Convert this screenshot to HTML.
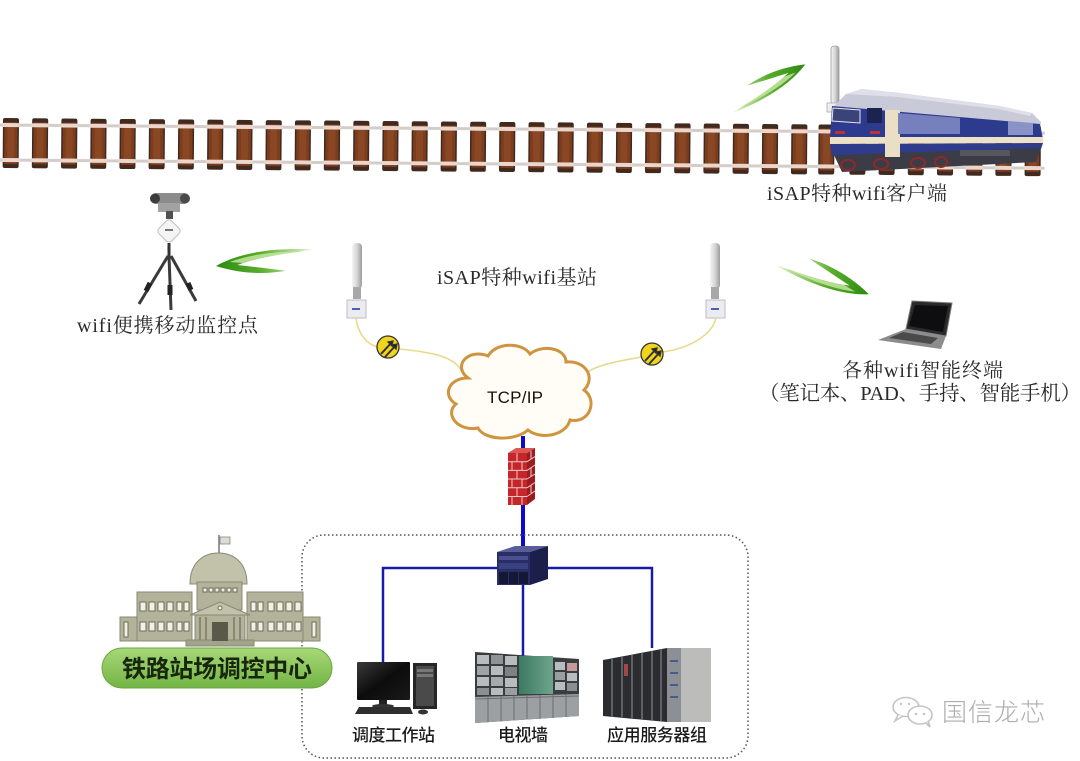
<!DOCTYPE html>
<html><head><meta charset="utf-8"><style>
html,body{margin:0;padding:0;background:#fff;}
svg{display:block}
.sf{font-family:"Liberation Serif","Noto Serif CJK SC",serif;fill:#2a2a2a;}
.ss{font-family:"Liberation Sans","Noto Sans CJK SC",sans-serif;}
</style></head><body>
<svg width="1080" height="761" viewBox="0 0 1080 761" xmlns="http://www.w3.org/2000/svg">
<defs>
 <g id="tie">
  <rect x="0" y="0" width="16" height="50" rx="2" fill="#40291f"/>
  <rect x="1.5" y="4" width="13" height="42" fill="#7b3d1d"/>
  <rect x="4.5" y="9" width="7" height="32" fill="#8a4724"/>
  <rect x="-1" y="5" width="18" height="4" fill="#ead6cc"/>
  <rect x="-1" y="40" width="18" height="4" fill="#ead6cc"/>
 </g>
 <linearGradient id="wg" x1="0" x2="1" y1="0" y2="0">
  <stop offset="0" stop-color="#2c8a10"/>
  <stop offset="0.45" stop-color="#58ad2a"/>
  <stop offset="1" stop-color="#e2f2cc"/>
 </linearGradient>
 <g id="wave">
  <path d="M0,2 C25,-12 60,-17 100,-15 C70,-11 40,-6 22,1 C40,3 58,5 72,7 C50,11 25,10 0,2 Z" fill="url(#wg)"/>
  <path d="M14,-2 C35,-10 62,-13 90,-13 C65,-10 42,-6 28,-1 Z" fill="#c4e6a0" opacity="0.85"/>
 </g>
 <linearGradient id="ant" x1="0" x2="1">
  <stop offset="0" stop-color="#f4f4f4"/><stop offset="0.5" stop-color="#d6d6d6"/><stop offset="1" stop-color="#9c9c9c"/>
 </linearGradient>
 <linearGradient id="pill" x1="0" x2="0" y1="0" y2="1">
  <stop offset="0" stop-color="#a8d878"/><stop offset="1" stop-color="#72b444"/>
 </linearGradient>
 <linearGradient id="scr" x1="0" x2="1" y1="0" y2="1">
  <stop offset="0" stop-color="#3a3a3a"/><stop offset="0.5" stop-color="#0c0c0c"/><stop offset="1" stop-color="#1a1a1a"/>
 </linearGradient>
 <linearGradient id="tvg" x1="0" x2="1">
  <stop offset="0" stop-color="#3c7a62"/><stop offset="1" stop-color="#6ea48c"/>
 </linearGradient>
</defs>

<!-- TRACK -->
<g transform="rotate(0.45 0 118)">
 <rect x="0" y="123.5" width="1045" height="3" fill="#d3cdca"/>
 <rect x="0" y="158.5" width="1045" height="3" fill="#d3cdca"/>
 <use href="#tie" x="3" y="118"/><use href="#tie" x="32.2" y="118"/><use href="#tie" x="61.4" y="118"/>
 <use href="#tie" x="90.6" y="118"/><use href="#tie" x="119.8" y="118"/><use href="#tie" x="149" y="118"/>
 <use href="#tie" x="178.2" y="118"/><use href="#tie" x="207.4" y="118"/><use href="#tie" x="236.6" y="118"/>
 <use href="#tie" x="265.8" y="118"/><use href="#tie" x="295" y="118"/><use href="#tie" x="324.2" y="118"/>
 <use href="#tie" x="353.4" y="118"/><use href="#tie" x="382.6" y="118"/><use href="#tie" x="411.8" y="118"/>
 <use href="#tie" x="441" y="118"/><use href="#tie" x="470.2" y="118"/><use href="#tie" x="499.4" y="118"/>
 <use href="#tie" x="528.6" y="118"/><use href="#tie" x="557.8" y="118"/><use href="#tie" x="587" y="118"/>
 <use href="#tie" x="616.2" y="118"/><use href="#tie" x="645.4" y="118"/><use href="#tie" x="674.6" y="118"/>
 <use href="#tie" x="703.8" y="118"/><use href="#tie" x="733" y="118"/><use href="#tie" x="762.2" y="118"/>
 <use href="#tie" x="791.4" y="118"/><use href="#tie" x="818.6" y="118"/><use href="#tie" x="849.8" y="118"/>
 <use href="#tie" x="879" y="118"/><use href="#tie" x="908.2" y="118"/><use href="#tie" x="937.4" y="118"/>
 <use href="#tie" x="966.6" y="118"/><use href="#tie" x="995.8" y="118"/><use href="#tie" x="1025" y="118"/>
</g>

<!-- TRAIN -->
<g>
 <rect x="831" y="46" width="8" height="58" rx="3" fill="url(#ant)" stroke="#9a9a9a" stroke-width="0.8"/>
 <rect x="827" y="103" width="16" height="9" fill="#eeeeee" stroke="#aaa" stroke-width="0.8"/>
 <path d="M834,106 L846,94 L862,89 L900,93 L1000,106 L1032,113 L1041,122 L1040,126 Z" fill="#c9cad8"/>
 <path d="M846,94 L862,89 L900,93 L1000,106 L1032,113 L1030,116 L998,109 L898,97 Z" fill="#dedfe8"/>
 <path d="M832,106 L1040,124 L1043,139 L830,138 Z" fill="#2d3b8e"/>
 <path d="M830,137 L1043,137 L1043,143 L830,144 Z" fill="#eee2c6"/>
 <path d="M830,144 L1043,143 L1041,149 L832,156 Z" fill="#2f3c8c"/>
 <path d="M834,155 L1041,148 L1036,162 L842,172 Z" fill="#3b3c46"/>
 <rect x="885" y="110" width="15" height="47" fill="#eadfc4"/>
 <path d="M898,113 L960,118 L960,134 L898,134 Z" fill="#7580bd"/>
 <path d="M1008,121 L1033,123 L1033,135 L1008,135 Z" fill="#8a93c6"/>
 <rect x="867" y="108" width="15" height="15" fill="#1c2350"/>
 <path d="M833,108 L860,110 L860,123 L832,121 Z" fill="#3a4478" stroke="#e8e8f0" stroke-width="1"/>
 <rect x="835" y="131" width="10" height="3" fill="#c23030"/>
 <rect x="870" y="131" width="10" height="3" fill="#c23030"/>
 <g fill="none" stroke="#8c2a2a" stroke-width="2">
  <ellipse cx="848" cy="165" rx="7" ry="5"/><ellipse cx="881" cy="164" rx="7" ry="5"/>
  <ellipse cx="918" cy="163" rx="7" ry="5"/><ellipse cx="941" cy="162" rx="6" ry="5"/>
 </g>
 <rect x="960" y="150" width="50" height="6" fill="#55565e"/>
</g>

<!-- WAVES -->
<use href="#wave" transform="translate(806,66) rotate(156) scale(0.86)"/>
<use href="#wave" transform="translate(216,264) scale(0.97)"/>
<use href="#wave" transform="translate(868,296) rotate(207) scale(0.96)"/>

<!-- CAMERA TRIPOD -->
<g>
 <rect x="152" y="193" width="36" height="11" rx="4" fill="#8c8c8c"/>
 <circle cx="155" cy="198.5" r="5" fill="#3c3c3c"/>
 <circle cx="185" cy="198.5" r="5" fill="#4a4a4a"/>
 <rect x="158" y="203" width="22" height="9" fill="#a2a2a2"/>
 <rect x="166" y="211" width="7" height="8" fill="#505050"/>
 <rect x="160" y="222" width="18" height="18" rx="4" transform="rotate(45 169 231)" fill="#f4f4f4" stroke="#bdbdbd"/>
 <rect x="165" y="229" width="8" height="2" fill="#777"/>
 <line x1="169" y1="243" x2="169" y2="258" stroke="#333" stroke-width="3"/>
 <path d="M168,256 L139,304 M171,256 L196,301 M169,256 L171,310" stroke="#3a3a3a" stroke-width="3" fill="none"/>
 <path d="M150,283 L146,291 M188,283 L191,290 M170,285 L170,295" stroke="#222" stroke-width="5"/>
</g>

<!-- BASE STATIONS -->
<g>
 <rect x="352" y="243" width="10" height="46" rx="4" fill="url(#ant)"/>
 <rect x="353" y="287" width="8" height="12" fill="#a8a8a8"/>
 <rect x="347" y="300" width="19" height="18" fill="#ececf0" stroke="#bcbcc4"/>
 <rect x="352" y="308" width="8" height="2" fill="#4a60b0"/>
 <rect x="710" y="243" width="10" height="46" rx="4" fill="url(#ant)"/>
 <rect x="711" y="287" width="8" height="12" fill="#a8a8a8"/>
 <rect x="706" y="300" width="19" height="18" fill="#ececf0" stroke="#bcbcc4"/>
 <rect x="711" y="308" width="8" height="2" fill="#4a60b0"/>
</g>
<g fill="none" stroke="#e8da8a" stroke-width="1.6">
 <path d="M356,318 C358,335 368,345 378,347"/>
 <path d="M399,349 C430,352 455,356 462,372"/>
 <path d="M716,318 C712,335 690,348 663,352"/>
 <path d="M641,357 C615,362 595,365 583,375"/>
</g>
<g stroke="#333" stroke-width="1.3">
 <circle cx="388" cy="347" r="11" fill="#f0d41e"/>
 <path d="M381,354 L393,341 M385,357 L397,344" fill="none" stroke-width="2"/>
 <path d="M393,341 L388,342 L392,346 Z M397,344 L392,345 L396,349 Z" fill="#222"/>
 <circle cx="652" cy="354" r="11" fill="#f0d41e"/>
 <path d="M645,361 L657,348 M649,364 L661,351" fill="none" stroke-width="2"/>
 <path d="M657,348 L652,349 L656,353 Z M661,351 L656,352 L660,356 Z" fill="#222"/>
</g>

<!-- CLOUD -->
<path d="M468,378 C452,366 468,348 488,356 C496,342 522,342 530,354 C542,344 566,348 566,362 C586,360 596,378 584,390 C598,400 590,424 570,420 C566,436 540,440 528,430 C514,442 484,440 478,428 C458,432 444,414 456,404 C442,396 448,378 468,378 Z" fill="#fffdf6" stroke="#cf9440" stroke-width="3"/>
<text x="487" y="403" font-size="17" class="ss" fill="#111" textLength="56">TCP/IP</text>

<!-- BLUE MAIN LINE + FIREWALL -->
<line x1="523" y1="436" x2="523" y2="552" stroke="#0b0bd0" stroke-width="4"/>
<g>
 <rect x="508" y="453" width="19" height="52" fill="#c4262a"/>
 <path d="M527,453 L535,448 L535,499 L527,505 Z" fill="#9c1c1f"/>
 <path d="M508,453 L516,448 L535,448 L527,453 Z" fill="#dc5656"/>
 <g stroke="#f2c8c8" stroke-width="1" fill="none">
  <path d="M508,461.7 H527 M508,470.4 H527 M508,479 H527 M508,487.8 H527 M508,496.5 H527"/>
  <path d="M517,453 V461.7 M512,461.7 V470.4 M522,461.7 V470.4 M517,470.4 V479 M512,479 V487.8 M522,479 V487.8 M517,487.8 V496.5 M512,496.5 V505 M522,496.5 V505"/>
  <path d="M527,461.7 L535,456.5 M527,470.4 L535,465 M527,479 L535,474 M527,487.8 L535,482.5 M527,496.5 L535,491"/>
  <path d="M531,451 V459 M531,468 V476 M531,485 V493"/>
 </g>
</g>

<!-- DOTTED BOX -->
<rect x="302" y="535" width="446" height="223" rx="22" fill="none" stroke="#555" stroke-width="1.5" stroke-dasharray="1.5,2.5"/>

<!-- BRANCH LINES -->
<g stroke="#1a1aa8" stroke-width="2.5" fill="none">
 <path d="M383,664 V568 H652 V648"/>
 <path d="M523,585 V662"/>
</g>

<!-- SWITCH -->
<g>
 <path d="M497,552 L515,546 L548,546 L530,552 Z" fill="#5a5e96"/>
 <rect x="497" y="552" width="33" height="33" fill="#2a2e66"/>
 <path d="M530,552 L548,546 L548,579 L530,585 Z" fill="#1b1f4a"/>
 <rect x="499" y="556" width="29" height="4" fill="#4a5090"/>
 <rect x="499" y="563" width="29" height="6" fill="#3b4080"/>
 <rect x="499" y="572" width="9" height="12" fill="#141736"/>
 <rect x="509" y="572" width="9" height="12" fill="#141736"/>
 <rect x="519" y="572" width="9" height="12" fill="#141736"/>
</g>

<!-- WORKSTATION -->
<g>
 <rect x="357" y="662" width="53" height="38" rx="1" fill="url(#scr)"/>
 <rect x="379" y="700" width="8" height="5" fill="#222"/>
 <ellipse cx="383" cy="706" rx="11" ry="2" fill="#333"/>
 <path d="M359,707 L410,707 L413,714 L355,714 Z" fill="#2e2e2e"/>
 <rect x="413" y="663" width="24" height="46" fill="#262626"/>
 <rect x="416" y="666" width="18" height="40" fill="#4a4a4a"/>
 <rect x="417" y="669" width="16" height="3" fill="#777"/>
 <rect x="417" y="674" width="16" height="3" fill="#777"/>
 <ellipse cx="423" cy="712" rx="5" ry="2.5" fill="#333"/>
</g>

<!-- TV WALL -->
<g>
 <path d="M475,652 L579,659 L579,716 L475,723 Z" fill="#3a3d40"/>
 <g fill="#b9bcbe">
  <rect x="477" y="655" width="12" height="9"/><rect x="491" y="655" width="12" height="9" fill="#8d9294"/><rect x="505" y="656" width="12" height="9"/>
  <rect x="477" y="666" width="12" height="9" fill="#9fa3a6"/><rect x="491" y="666" width="12" height="9"/><rect x="505" y="667" width="12" height="9" fill="#7d8285"/>
  <rect x="477" y="677" width="12" height="9"/><rect x="491" y="677" width="12" height="9" fill="#a6aaad"/><rect x="505" y="678" width="12" height="9"/>
  <rect x="477" y="688" width="12" height="7" fill="#8a8f92"/><rect x="491" y="688" width="12" height="7"/><rect x="505" y="688" width="12" height="7" fill="#9a9ea1"/>
  <rect x="555" y="662" width="10" height="8"/><rect x="567" y="663" width="10" height="8" fill="#c49a9a"/>
  <rect x="555" y="672" width="10" height="8" fill="#9a9ea1"/><rect x="567" y="673" width="10" height="8"/>
  <rect x="555" y="682" width="10" height="8"/><rect x="567" y="683" width="10" height="8" fill="#8a8f92"/>
 </g>
 <rect x="519" y="656" width="34" height="38" fill="url(#tvg)"/>
 <path d="M475,697 L579,694 L579,716 L475,723 Z" fill="#9ca0a2"/>
 <g stroke="#6a6e70" stroke-width="1">
  <path d="M488,697 V722 M501,696 V721 M514,696 V720 M527,696 V719 M540,695 V719 M553,695 V718 M566,694 V717"/>
  <path d="M475,699 L579,696"/>
 </g>
</g>

<!-- SERVERS -->
<g>
 <path d="M603,660 L667,648 L667,722 L603,716 Z" fill="#2b2c30"/>
 <g fill="#5d6066">
  <rect x="611" y="659" width="2" height="58"/><rect x="621" y="657" width="2" height="60"/>
  <rect x="631" y="655" width="2" height="63"/><rect x="641" y="653" width="2" height="66"/>
  <rect x="651" y="651" width="2" height="69"/><rect x="660" y="649" width="2" height="72"/>
 </g>
 <rect x="624" y="664" width="4" height="12" fill="#a04848"/>
 <rect x="667" y="648" width="44" height="74" fill="#bcbcba"/>
 <rect x="667" y="648" width="14" height="74" fill="#8c8f94"/>
 <g fill="#4a5a8a"><rect x="670" y="660" width="8" height="2"/><rect x="670" y="672" width="8" height="2"/><rect x="670" y="684" width="8" height="2"/><rect x="670" y="696" width="8" height="2"/></g>
</g>

<!-- LAPTOP -->
<g>
 <path d="M912,301 L952,303 L946,336 L906,329 Z" fill="#2a2a2a" stroke="#7a7a7a" stroke-width="1"/>
 <path d="M915,305 L948,306 L943,332 L909,326 Z" fill="#0e0e10"/>
 <path d="M906,329 L946,336 L941,349 L878,340 Z" fill="#8c8c8c"/>
 <path d="M903,332 L938,338 L931,344 L889,338 Z" fill="#4a4a4a"/>
</g>

<!-- BUILDING -->
<g>
 <line x1="219" y1="535" x2="219" y2="556" stroke="#777" stroke-width="1.5"/>
 <rect x="220" y="537" width="10" height="7" fill="#dcdcd4" stroke="#888" stroke-width="0.8"/>
 <g fill="#b3b29a" stroke="#8a8973" stroke-width="1">
  <path d="M190,584 C190,562 204,553 218.5,553 C233,553 247,562 247,584 Z" fill="#c2c1aa"/>
  <rect x="197" y="582" width="45" height="28"/>
  <rect x="120" y="617" width="17" height="24"/>
  <rect x="137" y="592" width="55" height="49"/>
  <rect x="247" y="592" width="56" height="49"/>
  <rect x="303" y="617" width="17" height="24"/>
  <rect x="195" y="614" width="50" height="28"/>
  <path d="M190,615 L220,602 L250,615 Z" fill="#c2c1aa"/>
  <rect x="186" y="640" width="68" height="6" fill="#a3a28a"/>
 </g>
 <g fill="#f2f1e8" stroke="#6e6d58" stroke-width="1">
  <rect x="203" y="588" width="4" height="4"/><rect x="209" y="588" width="4" height="4"/><rect x="215" y="588" width="4" height="4"/>
  <rect x="221" y="588" width="4" height="4"/><rect x="227" y="588" width="4" height="4"/><rect x="233" y="588" width="4" height="4"/>
  <rect x="140" y="602" width="6" height="9"/><rect x="149" y="602" width="6" height="9"/><rect x="158" y="602" width="6" height="9"/><rect x="167" y="602" width="6" height="9"/>
  <rect x="177" y="602" width="5" height="9"/><rect x="184" y="602" width="5" height="9"/>
  <rect x="140" y="622" width="6" height="9"/><rect x="149" y="622" width="6" height="9"/><rect x="158" y="622" width="6" height="9"/><rect x="167" y="622" width="6" height="9"/>
  <rect x="177" y="622" width="5" height="9"/><rect x="184" y="622" width="5" height="9"/>
  <rect x="251" y="602" width="5" height="9"/><rect x="258" y="602" width="5" height="9"/>
  <rect x="268" y="602" width="6" height="9"/><rect x="277" y="602" width="6" height="9"/><rect x="286" y="602" width="6" height="9"/><rect x="295" y="602" width="6" height="9"/>
  <rect x="251" y="622" width="5" height="9"/><rect x="258" y="622" width="5" height="9"/>
  <rect x="268" y="622" width="6" height="9"/><rect x="277" y="622" width="6" height="9"/><rect x="286" y="622" width="6" height="9"/><rect x="295" y="622" width="6" height="9"/>
  <rect x="124" y="622" width="4" height="15"/><rect x="312" y="622" width="4" height="15"/>
 </g>
 <g stroke="#7c7b66" stroke-width="1.5"><path d="M200,617 V640 M206,617 V640 M234,617 V640 M240,617 V640"/></g>
 <rect x="212" y="622" width="16" height="19" fill="#5a5848"/>
 <circle cx="220" cy="608" r="2" fill="#f2f1e8" stroke="#6e6d58"/>
</g>
<rect x="102" y="648" width="230" height="40" rx="20" fill="url(#pill)" stroke="#6aa83c" stroke-width="1"/>
<text x="122" y="677" font-size="24" font-weight="700" class="ss" fill="#17260c" textLength="190" lengthAdjust="spacing">铁路站场调控中心</text>

<!-- LABELS -->
<text class="sf" x="767" y="200" font-size="20" textLength="180" lengthAdjust="spacing">iSAP特种wifi客户端</text>
<text class="sf" x="77" y="332" font-size="20" textLength="181" lengthAdjust="spacing">wifi便携移动监控点</text>
<text class="sf" x="437" y="284" font-size="20" textLength="160" lengthAdjust="spacing">iSAP特种wifi基站</text>
<text class="sf" x="842" y="377" font-size="20" textLength="161" lengthAdjust="spacing">各种wifi智能终端</text>
<text class="sf" x="759" y="400" font-size="20.5" textLength="322" lengthAdjust="spacing">（笔记本、PAD、手持、智能手机）</text>

<text class="ss" x="352" y="741" font-size="17" font-weight="500" fill="#1a1a1a" textLength="83" lengthAdjust="spacing">调度工作站</text>
<text class="ss" x="498" y="741" font-size="17" font-weight="500" fill="#1a1a1a" textLength="50" lengthAdjust="spacing">电视墙</text>
<text class="ss" x="607" y="741" font-size="17" font-weight="500" fill="#1a1a1a" textLength="100" lengthAdjust="spacing">应用服务器组</text>

<!-- WATERMARK -->
<g fill="#fff" stroke="#c4c4c4" stroke-width="1.6">
 <ellipse cx="906" cy="707" rx="13" ry="9.5"/>
 <path d="M898,715 L895,721 L903,716"/>
 <ellipse cx="920" cy="715" rx="12" ry="9"/>
 <path d="M926,723 L930,727 L928,721"/>
</g>
<g fill="#c4c4c4"><circle cx="916" cy="714" r="1.3"/><circle cx="924" cy="714" r="1.3"/><circle cx="901" cy="704" r="1.2"/><circle cx="909" cy="704" r="1.2"/></g>
<text class="ss" x="942" y="721" font-size="25" font-weight="300" fill="#adadad" textLength="103" lengthAdjust="spacing">国信龙芯</text>
</svg>
</body></html>
